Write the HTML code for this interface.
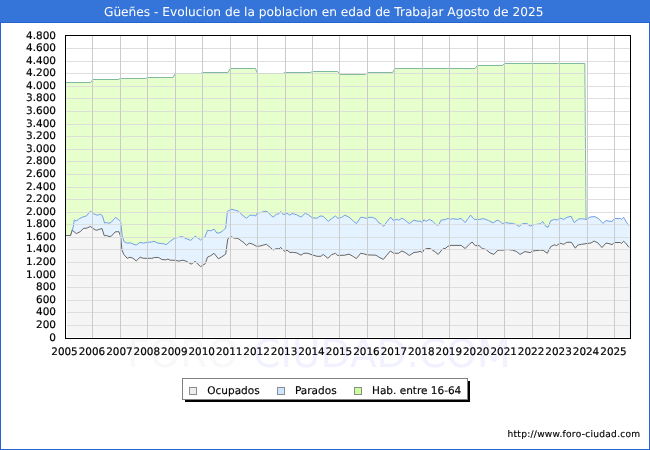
<!DOCTYPE html>
<html><head><meta charset="utf-8"><title>Güeñes</title>
<style>html,body{margin:0;padding:0;background:#fff}body{width:650px;height:450px;overflow:hidden}svg{display:block;will-change:transform}text{font-family:'DejaVu Sans','Liberation Sans',sans-serif;text-rendering:geometricPrecision}</style></head><body>
<svg width="650" height="450" viewBox="0 0 650 450">
<rect x="0" y="0" width="650" height="450" fill="#ffffff"/>
<g shape-rendering="crispEdges">
<rect x="0" y="0" width="650" height="22" fill="#3574d8"/>
<rect x="0" y="22" width="650" height="1" fill="#2563d1"/>
<rect x="0" y="22" width="1" height="428" fill="#2563d1"/>
<rect x="649" y="22" width="1" height="428" fill="#2563d1"/>
<rect x="0" y="449" width="650" height="1" fill="#2563d1"/>
</g>
<text x="323.7" y="16" font-size="12.2" fill="#ffffff" text-anchor="middle">Güeñes - Evolucion de la poblacion en edad de Trabajar Agosto de 2025</text>
<text x="127.2" y="366.8" font-size="39" fill="#f8f8f8">FORO-<tspan fill="#f1f1ff">CIUDAD.COM</tspan></text>
<defs><clipPath id="cg"><rect x="66" y="36" width="564" height="301"/></clipPath><clipPath id="cb"><rect x="67" y="36" width="563" height="301"/></clipPath><clipPath id="ck"><rect x="67" y="36" width="562" height="301"/></clipPath><clipPath id="c2"><rect x="66" y="36" width="564" height="302"/></clipPath></defs>
<polygon clip-path="url(#cg)" fill="#e6ffcc" points="65.5,338.5 65.5,82.5 90.7,82.5 92.9,79.5 118.1,79.5 120.4,78.5 145.6,78.5 147.8,77.5 173.0,77.5 175.3,73.5 200.5,73.5 202.7,72.5 227.9,72.5 230.2,68.5 255.4,68.5 257.6,73.5 282.8,73.5 285.1,72.5 310.3,72.5 312.5,71.5 337.7,71.5 340.0,74.5 365.2,74.5 367.4,72.5 392.6,72.5 394.9,68.5 420.1,68.5 422.3,68.5 447.5,68.5 449.8,68.5 475.0,68.5 477.2,65.5 502.4,65.5 504.7,63.5 529.9,63.5 532.1,63.5 557.3,63.5 559.6,63.5 584.8,63.5 587.0,338.5"/>
<polyline clip-path="url(#c2)" fill="none" stroke-width="1" stroke-linejoin="round" stroke="#7fba9f" points="65.5,82.5 90.7,82.5 92.9,79.5 118.1,79.5 120.4,78.5 145.6,78.5 147.8,77.5 173.0,77.5 175.3,73.5 200.5,73.5 202.7,72.5 227.9,72.5 230.2,68.5 255.4,68.5 257.6,73.5 282.8,73.5 285.1,72.5 310.3,72.5 312.5,71.5 337.7,71.5 340.0,74.5 365.2,74.5 367.4,72.5 392.6,72.5 394.9,68.5 420.1,68.5 422.3,68.5 447.5,68.5 449.8,68.5 475.0,68.5 477.2,65.5 502.4,65.5 504.7,63.5 529.9,63.5 532.1,63.5 557.3,63.5 559.6,63.5 584.8,63.5 587.0,338.5"/>
<polygon clip-path="url(#cb)" fill="#e5f2ff" points="65.5,338.5 65.5,235.5 70.6,235.5 72.2,230.2 73.4,226.0 74.2,220.0 76.3,221.0 79.4,218.7 82.6,217.1 86.4,216.0 90.3,211.2 93.4,213.7 97.3,215.2 100.4,214.3 102.3,215.6 104.6,223.0 106.7,222.6 109.0,223.3 111.3,222.2 115.5,217.4 118.3,219.4 120.7,221.8 122.2,235.8 124.1,241.7 127.2,243.2 130.0,242.8 133.1,244.0 136.2,245.1 140.1,242.3 143.2,243.1 147.1,242.3 151.8,242.0 153.9,241.2 157.8,243.1 162.4,243.5 166.3,244.6 170.2,241.2 174.9,238.1 178.8,237.3 181.9,236.5 185.0,238.1 190.7,240.4 195.1,236.2 198.2,238.1 200.5,240.1 203.7,237.3 205.2,236.5 207.5,230.3 210.7,230.8 214.1,229.1 216.9,233.1 220.0,232.7 223.1,230.6 225.7,228.0 227.3,211.7 230.9,209.3 234.8,210.1 237.9,210.9 241.8,214.5 243.1,215.6 246.5,218.4 249.6,215.2 253.2,215.2 255.6,216.0 257.1,213.2 261.0,212.4 265.7,211.2 268.0,212.0 270.3,214.8 273.1,217.1 276.5,214.3 278.9,213.7 280.7,211.4 282.8,214.3 285.4,214.3 287.0,213.2 289.5,215.2 292.1,213.5 296.8,214.8 301.0,217.1 305.3,213.2 308.4,214.8 312.3,217.9 317.0,218.2 320.1,216.0 323.2,216.3 328.2,221.3 331.6,218.7 335.4,216.0 337.8,218.2 341.7,217.4 344.8,215.2 349.0,217.1 353.3,221.0 356.4,223.6 360.6,217.4 363.4,217.4 366.1,218.4 368.1,217.4 372.8,217.4 375.9,219.0 379.0,223.0 381.3,224.1 383.7,226.4 386.8,221.8 390.7,217.1 393.0,220.2 397.7,219.4 398.7,220.2 401.9,218.2 404.7,219.8 409.3,223.6 414.0,220.2 417.9,221.3 420.0,221.0 422.3,222.6 423.9,219.8 426.2,221.3 429.3,219.4 432.4,221.0 436.3,224.9 438.7,224.9 441.0,220.2 445.7,219.4 448.0,218.4 450.3,219.4 452.7,218.7 457.3,219.4 461.2,218.4 465.1,222.6 468.2,218.4 470.5,215.1 474.4,219.4 479.1,219.4 483.8,218.7 488.4,220.5 493.1,222.9 497.0,220.2 499.3,221.0 502.4,223.6 505.5,222.6 510.0,223.3 512.3,223.3 516.2,224.6 519.3,226.4 522.4,223.6 527.1,223.6 530.2,226.1 532.6,224.9 540.3,223.8 542.7,221.5 545.8,226.4 548.1,227.2 550.7,220.7 554.3,219.4 557.4,219.9 559.8,217.9 563.7,219.4 566.8,217.4 571.1,216.3 574.2,222.6 578.4,219.1 581.5,218.7 587.0,219.4 590.0,217.0 595.0,216.6 599.0,219.0 603.0,223.4 606.0,220.6 612.0,221.6 613.4,219.6 614.8,218.5 620.4,218.5 621.4,219.6 623.5,217.2 628.6,225.6 630.0,225.6 630.0,338.5"/>
<polyline clip-path="url(#c2)" fill="none" stroke-width="1" stroke-linejoin="round" stroke="#729fe8" points="65.5,235.5 70.6,235.5 72.2,230.2 73.4,226.0 74.2,220.0 76.3,221.0 79.4,218.7 82.6,217.1 86.4,216.0 90.3,211.2 93.4,213.7 97.3,215.2 100.4,214.3 102.3,215.6 104.6,223.0 106.7,222.6 109.0,223.3 111.3,222.2 115.5,217.4 118.3,219.4 120.7,221.8 122.2,235.8 124.1,241.7 127.2,243.2 130.0,242.8 133.1,244.0 136.2,245.1 140.1,242.3 143.2,243.1 147.1,242.3 151.8,242.0 153.9,241.2 157.8,243.1 162.4,243.5 166.3,244.6 170.2,241.2 174.9,238.1 178.8,237.3 181.9,236.5 185.0,238.1 190.7,240.4 195.1,236.2 198.2,238.1 200.5,240.1 203.7,237.3 205.2,236.5 207.5,230.3 210.7,230.8 214.1,229.1 216.9,233.1 220.0,232.7 223.1,230.6 225.7,228.0 227.3,211.7 230.9,209.3 234.8,210.1 237.9,210.9 241.8,214.5 243.1,215.6 246.5,218.4 249.6,215.2 253.2,215.2 255.6,216.0 257.1,213.2 261.0,212.4 265.7,211.2 268.0,212.0 270.3,214.8 273.1,217.1 276.5,214.3 278.9,213.7 280.7,211.4 282.8,214.3 285.4,214.3 287.0,213.2 289.5,215.2 292.1,213.5 296.8,214.8 301.0,217.1 305.3,213.2 308.4,214.8 312.3,217.9 317.0,218.2 320.1,216.0 323.2,216.3 328.2,221.3 331.6,218.7 335.4,216.0 337.8,218.2 341.7,217.4 344.8,215.2 349.0,217.1 353.3,221.0 356.4,223.6 360.6,217.4 363.4,217.4 366.1,218.4 368.1,217.4 372.8,217.4 375.9,219.0 379.0,223.0 381.3,224.1 383.7,226.4 386.8,221.8 390.7,217.1 393.0,220.2 397.7,219.4 398.7,220.2 401.9,218.2 404.7,219.8 409.3,223.6 414.0,220.2 417.9,221.3 420.0,221.0 422.3,222.6 423.9,219.8 426.2,221.3 429.3,219.4 432.4,221.0 436.3,224.9 438.7,224.9 441.0,220.2 445.7,219.4 448.0,218.4 450.3,219.4 452.7,218.7 457.3,219.4 461.2,218.4 465.1,222.6 468.2,218.4 470.5,215.1 474.4,219.4 479.1,219.4 483.8,218.7 488.4,220.5 493.1,222.9 497.0,220.2 499.3,221.0 502.4,223.6 505.5,222.6 510.0,223.3 512.3,223.3 516.2,224.6 519.3,226.4 522.4,223.6 527.1,223.6 530.2,226.1 532.6,224.9 540.3,223.8 542.7,221.5 545.8,226.4 548.1,227.2 550.7,220.7 554.3,219.4 557.4,219.9 559.8,217.9 563.7,219.4 566.8,217.4 571.1,216.3 574.2,222.6 578.4,219.1 581.5,218.7 587.0,219.4 590.0,217.0 595.0,216.6 599.0,219.0 603.0,223.4 606.0,220.6 612.0,221.6 613.4,219.6 614.8,218.5 620.4,218.5 621.4,219.6 623.5,217.2 628.6,225.6"/>
<polygon clip-path="url(#ck)" fill="#f5f5f5" points="65.5,338.5 65.5,235.5 70.6,235.5 72.2,230.2 76.4,233.6 80.4,231.6 83.3,228.5 87.2,228.0 90.3,226.4 92.7,228.3 96.1,230.3 98.9,229.5 102.0,228.5 104.3,235.8 106.7,235.5 109.0,236.5 111.3,236.2 115.2,231.9 118.8,231.6 120.7,236.5 121.9,249.8 123.8,254.4 127.2,258.3 130.0,257.2 133.1,258.3 136.2,261.0 140.1,257.2 143.2,258.3 147.1,258.3 151.8,258.3 154.7,257.5 158.6,257.5 161.7,259.4 165.6,259.9 167.9,259.1 170.2,260.2 174.9,260.3 178.8,261.1 182.7,260.2 185.8,261.0 191.2,264.1 195.1,261.4 200.5,266.6 205.2,263.8 207.5,257.2 210.7,255.7 214.1,253.3 218.4,258.8 221.9,256.8 225.7,254.1 227.8,238.9 230.9,236.5 234.0,238.1 237.9,238.4 241.8,241.2 243.1,242.0 246.5,245.4 249.3,243.2 252.4,244.0 256.3,246.2 259.4,246.2 263.3,245.1 266.4,244.3 270.3,247.4 273.1,250.1 276.5,248.5 278.9,249.0 280.7,247.4 283.5,250.5 285.4,251.6 287.0,250.1 289.8,252.4 293.7,252.4 296.8,252.9 301.0,255.2 303.8,253.3 307.7,253.3 312.3,254.9 317.0,256.3 320.9,256.3 323.2,254.4 327.9,258.3 331.6,254.7 335.4,253.3 337.8,255.5 344.8,255.2 349.0,254.1 353.3,256.5 356.4,258.6 360.6,253.3 363.4,253.7 367.3,254.9 375.9,255.2 379.0,257.2 383.3,259.4 386.8,255.2 390.3,251.0 393.8,253.3 398.4,253.3 401.9,251.0 405.4,252.6 409.3,255.5 414.0,252.4 417.9,252.1 420.0,251.3 422.3,252.6 423.9,249.8 427.0,248.5 430.1,248.5 434.0,251.0 438.2,254.4 442.6,249.0 445.7,248.2 448.0,246.2 451.1,245.4 461.2,245.4 465.1,248.5 469.8,243.9 472.1,242.0 475.2,245.6 479.1,245.6 482.2,248.5 486.1,249.5 490.0,252.9 493.9,254.4 497.8,250.2 504.0,250.1 507.1,249.5 512.3,250.1 516.2,251.3 520.1,254.4 524.8,251.6 530.2,252.6 532.6,251.0 540.3,250.1 543.4,250.5 547.3,253.3 550.7,246.7 554.3,244.8 556.7,245.6 559.8,243.2 563.7,244.3 566.8,242.3 571.4,242.3 575.3,248.2 577.7,245.1 581.5,244.3 587.0,243.5 591.0,243.0 594.0,241.0 598.0,243.0 602.0,247.6 606.0,243.0 609.0,243.6 612.0,244.6 613.6,243.2 614.8,242.5 620.4,242.5 621.4,243.6 623.6,241.2 625.4,242.8 629.0,247.4 630.0,247.4 630.0,338.5"/>
<polyline clip-path="url(#c2)" fill="none" stroke-width="1" stroke-linejoin="round" stroke="#666666" points="65.5,235.5 70.6,235.5 72.2,230.2 76.4,233.6 80.4,231.6 83.3,228.5 87.2,228.0 90.3,226.4 92.7,228.3 96.1,230.3 98.9,229.5 102.0,228.5 104.3,235.8 106.7,235.5 109.0,236.5 111.3,236.2 115.2,231.9 118.8,231.6 120.7,236.5 121.9,249.8 123.8,254.4 127.2,258.3 130.0,257.2 133.1,258.3 136.2,261.0 140.1,257.2 143.2,258.3 147.1,258.3 151.8,258.3 154.7,257.5 158.6,257.5 161.7,259.4 165.6,259.9 167.9,259.1 170.2,260.2 174.9,260.3 178.8,261.1 182.7,260.2 185.8,261.0 191.2,264.1 195.1,261.4 200.5,266.6 205.2,263.8 207.5,257.2 210.7,255.7 214.1,253.3 218.4,258.8 221.9,256.8 225.7,254.1 227.8,238.9 230.9,236.5 234.0,238.1 237.9,238.4 241.8,241.2 243.1,242.0 246.5,245.4 249.3,243.2 252.4,244.0 256.3,246.2 259.4,246.2 263.3,245.1 266.4,244.3 270.3,247.4 273.1,250.1 276.5,248.5 278.9,249.0 280.7,247.4 283.5,250.5 285.4,251.6 287.0,250.1 289.8,252.4 293.7,252.4 296.8,252.9 301.0,255.2 303.8,253.3 307.7,253.3 312.3,254.9 317.0,256.3 320.9,256.3 323.2,254.4 327.9,258.3 331.6,254.7 335.4,253.3 337.8,255.5 344.8,255.2 349.0,254.1 353.3,256.5 356.4,258.6 360.6,253.3 363.4,253.7 367.3,254.9 375.9,255.2 379.0,257.2 383.3,259.4 386.8,255.2 390.3,251.0 393.8,253.3 398.4,253.3 401.9,251.0 405.4,252.6 409.3,255.5 414.0,252.4 417.9,252.1 420.0,251.3 422.3,252.6 423.9,249.8 427.0,248.5 430.1,248.5 434.0,251.0 438.2,254.4 442.6,249.0 445.7,248.2 448.0,246.2 451.1,245.4 461.2,245.4 465.1,248.5 469.8,243.9 472.1,242.0 475.2,245.6 479.1,245.6 482.2,248.5 486.1,249.5 490.0,252.9 493.9,254.4 497.8,250.2 504.0,250.1 507.1,249.5 512.3,250.1 516.2,251.3 520.1,254.4 524.8,251.6 530.2,252.6 532.6,251.0 540.3,250.1 543.4,250.5 547.3,253.3 550.7,246.7 554.3,244.8 556.7,245.6 559.8,243.2 563.7,244.3 566.8,242.3 571.4,242.3 575.3,248.2 577.7,245.1 581.5,244.3 587.0,243.5 591.0,243.0 594.0,241.0 598.0,243.0 602.0,247.6 606.0,243.0 609.0,243.6 612.0,244.6 613.6,243.2 614.8,242.5 620.4,242.5 621.4,243.6 623.6,241.2 625.4,242.8 629.0,247.4"/>
<g shape-rendering="crispEdges">
<rect x="67" y="325" width="562" height="1" fill="#dcdcdc" fill-opacity="0.9"/>
<rect x="67" y="312" width="562" height="1" fill="#dcdcdc" fill-opacity="0.9"/>
<rect x="67" y="300" width="562" height="1" fill="#dcdcdc" fill-opacity="0.9"/>
<rect x="67" y="287" width="562" height="1" fill="#dcdcdc" fill-opacity="0.9"/>
<rect x="67" y="275" width="562" height="1" fill="#dcdcdc" fill-opacity="0.9"/>
<rect x="67" y="262" width="562" height="1" fill="#dcdcdc" fill-opacity="0.9"/>
<rect x="67" y="249" width="562" height="1" fill="#dcdcdc" fill-opacity="0.9"/>
<rect x="67" y="237" width="563" height="1" fill="#dcdcdc" fill-opacity="0.9"/>
<rect x="66" y="224" width="564" height="1" fill="#dcdcdc" fill-opacity="0.9"/>
<rect x="66" y="212" width="564" height="1" fill="#dcdcdc" fill-opacity="0.9"/>
<rect x="66" y="199" width="564" height="1" fill="#dcdcdc" fill-opacity="0.9"/>
<rect x="66" y="187" width="564" height="1" fill="#dcdcdc" fill-opacity="0.9"/>
<rect x="66" y="174" width="564" height="1" fill="#dcdcdc" fill-opacity="0.9"/>
<rect x="66" y="161" width="564" height="1" fill="#dcdcdc" fill-opacity="0.9"/>
<rect x="66" y="149" width="564" height="1" fill="#dcdcdc" fill-opacity="0.9"/>
<rect x="66" y="136" width="564" height="1" fill="#dcdcdc" fill-opacity="0.9"/>
<rect x="66" y="124" width="564" height="1" fill="#dcdcdc" fill-opacity="0.9"/>
<rect x="66" y="111" width="564" height="1" fill="#dcdcdc" fill-opacity="0.9"/>
<rect x="66" y="98" width="564" height="1" fill="#dcdcdc" fill-opacity="0.9"/>
<rect x="66" y="86" width="564" height="1" fill="#dcdcdc" fill-opacity="0.9"/>
<rect x="66" y="73" width="564" height="1" fill="#dcdcdc" fill-opacity="0.9"/>
<rect x="66" y="61" width="564" height="1" fill="#dcdcdc" fill-opacity="0.9"/>
<rect x="66" y="48" width="564" height="1" fill="#dcdcdc" fill-opacity="0.9"/>
<rect x="92" y="36" width="1" height="302" fill="#c8c8c8" fill-opacity="0.95"/>
<rect x="120" y="36" width="1" height="302" fill="#c8c8c8" fill-opacity="0.95"/>
<rect x="147" y="36" width="1" height="302" fill="#c8c8c8" fill-opacity="0.95"/>
<rect x="175" y="36" width="1" height="302" fill="#c8c8c8" fill-opacity="0.95"/>
<rect x="202" y="36" width="1" height="302" fill="#c8c8c8" fill-opacity="0.95"/>
<rect x="230" y="36" width="1" height="302" fill="#c8c8c8" fill-opacity="0.95"/>
<rect x="257" y="36" width="1" height="302" fill="#c8c8c8" fill-opacity="0.95"/>
<rect x="285" y="36" width="1" height="302" fill="#c8c8c8" fill-opacity="0.95"/>
<rect x="312" y="36" width="1" height="302" fill="#c8c8c8" fill-opacity="0.95"/>
<rect x="339" y="36" width="1" height="302" fill="#c8c8c8" fill-opacity="0.95"/>
<rect x="367" y="36" width="1" height="302" fill="#c8c8c8" fill-opacity="0.95"/>
<rect x="394" y="36" width="1" height="302" fill="#c8c8c8" fill-opacity="0.95"/>
<rect x="422" y="36" width="1" height="302" fill="#c8c8c8" fill-opacity="0.95"/>
<rect x="449" y="36" width="1" height="302" fill="#c8c8c8" fill-opacity="0.95"/>
<rect x="477" y="36" width="1" height="302" fill="#c8c8c8" fill-opacity="0.95"/>
<rect x="504" y="36" width="1" height="302" fill="#c8c8c8" fill-opacity="0.95"/>
<rect x="532" y="36" width="1" height="302" fill="#c8c8c8" fill-opacity="0.95"/>
<rect x="559" y="36" width="1" height="302" fill="#c8c8c8" fill-opacity="0.95"/>
<rect x="587" y="36" width="1" height="302" fill="#c8c8c8" fill-opacity="0.95"/>
<rect x="614" y="36" width="1" height="302" fill="#c8c8c8" fill-opacity="0.95"/>
<rect x="66" y="236" width="1" height="101" fill="#fff"/>
<rect x="65" y="35" width="566" height="1" fill="#000"/>
<rect x="65" y="338" width="566" height="1" fill="#000"/>
<rect x="65" y="35" width="1" height="304" fill="#000"/>
<rect x="630" y="35" width="1" height="304" fill="#000"/>
</g>
<g font-size="10.45" fill="#000" stroke="#000" stroke-width="0.2" text-anchor="end">
<text x="56" y="341.0">0</text>
<text x="56" y="328.0">200</text>
<text x="56" y="315.0">400</text>
<text x="56" y="303.0">600</text>
<text x="56" y="290.0">800</text>
<text x="56" y="278.0">1.000</text>
<text x="56" y="265.0">1.200</text>
<text x="56" y="252.0">1.400</text>
<text x="56" y="240.0">1.600</text>
<text x="56" y="227.0">1.800</text>
<text x="56" y="215.0">2.000</text>
<text x="56" y="202.0">2.200</text>
<text x="56" y="190.0">2.400</text>
<text x="56" y="177.0">2.600</text>
<text x="56" y="164.0">2.800</text>
<text x="56" y="152.0">3.000</text>
<text x="56" y="139.0">3.200</text>
<text x="56" y="127.0">3.400</text>
<text x="56" y="114.0">3.600</text>
<text x="56" y="101.0">3.800</text>
<text x="56" y="89.0">4.000</text>
<text x="56" y="76.0">4.200</text>
<text x="56" y="64.0">4.400</text>
<text x="56" y="51.0">4.600</text>
<text x="56" y="39.0">4.800</text>
</g>
<g font-size="10.4" fill="#000" stroke="#000" stroke-width="0.2" text-anchor="middle">
<text x="64.5" y="355">2005</text>
<text x="91.9" y="355">2006</text>
<text x="119.4" y="355">2007</text>
<text x="146.8" y="355">2008</text>
<text x="174.3" y="355">2009</text>
<text x="201.7" y="355">2010</text>
<text x="229.2" y="355">2011</text>
<text x="256.6" y="355">2012</text>
<text x="284.1" y="355">2013</text>
<text x="311.5" y="355">2014</text>
<text x="339.0" y="355">2015</text>
<text x="366.4" y="355">2016</text>
<text x="393.9" y="355">2017</text>
<text x="421.3" y="355">2018</text>
<text x="448.8" y="355">2019</text>
<text x="476.2" y="355">2020</text>
<text x="503.7" y="355">2021</text>
<text x="531.1" y="355">2022</text>
<text x="558.6" y="355">2023</text>
<text x="586.0" y="355">2024</text>
<text x="613.5" y="355">2025</text>
</g>
<g shape-rendering="crispEdges">
<rect x="185" y="381" width="285" height="21" fill="#000"/>
<rect x="182.5" y="378.5" width="285" height="21" fill="#fff" stroke="#808080" stroke-width="1"/>
<rect x="189.5" y="387.5" width="7" height="7" fill="#eeeeee" stroke="#8c8c8c" stroke-width="1"/>
<rect x="277.5" y="387.5" width="7" height="7" fill="#cce6ff" stroke="#8c8c8c" stroke-width="1"/>
<rect x="354.5" y="387.5" width="7" height="7" fill="#ccff99" stroke="#8c8c8c" stroke-width="1"/>
</g>
<g font-size="10.5" fill="#000" stroke="#000" stroke-width="0.15">
<text x="207.3" y="394">Ocupados</text>
<text x="295" y="394">Parados</text>
<text x="372" y="394">Hab. entre 16-64</text>
</g>
<text x="640.5" y="436.8" font-size="9.1" letter-spacing="0.26" fill="#000" stroke="#000" stroke-width="0.15" text-anchor="end">http://www.foro-ciudad.com</text>
</svg></body></html>
